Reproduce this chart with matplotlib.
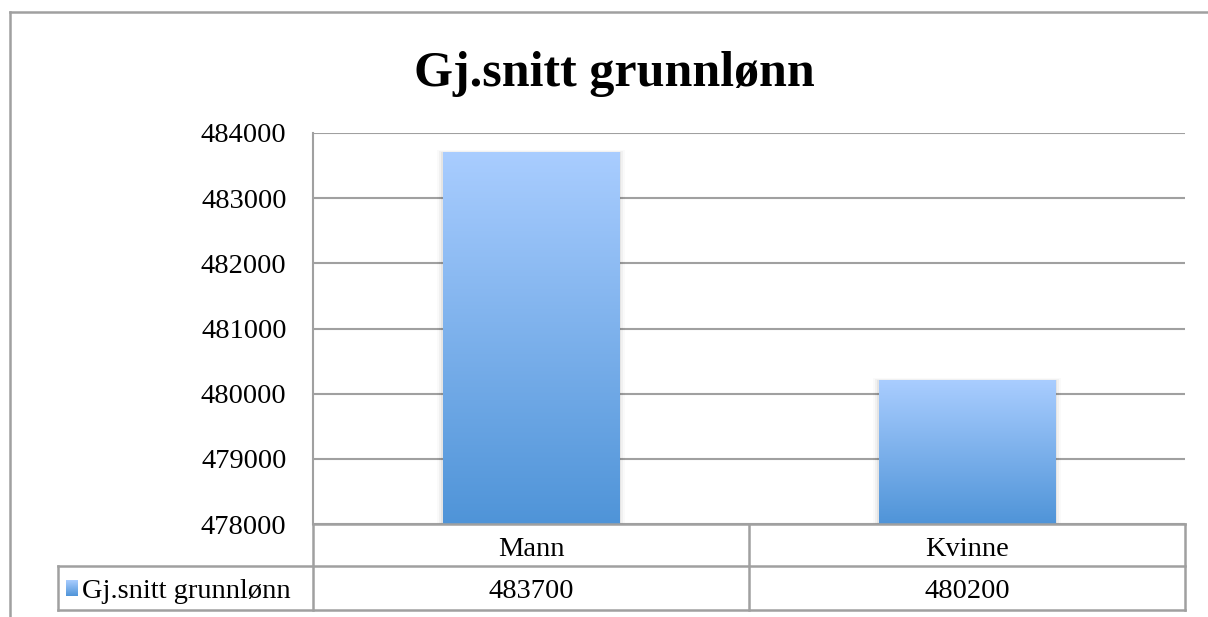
import matplotlib
matplotlib.use("Agg")
import matplotlib.pyplot as plt
import numpy as np
from matplotlib.colors import LinearSegmentedColormap
from matplotlib.lines import Line2D

categories = ["Mann", "Kvinne"]
values = [483700, 480200]
series_name = "Gj.snitt grunnlønn"
title = "Gj.snitt grunnlønn"
yticks = [478000, 479000, 480000, 481000, 482000, 483000, 484000]

W, H = 1208, 617
fig = plt.figure(figsize=(W / 100, H / 100), dpi=100)
plt.rcParams['font.family'] = ['Liberation Serif', 'DejaVu Serif']

def fx(px):
    return px / W

def fy(py):
    return 1 - py / H

gray = "#a0a0a0"
fs = 20.5

# outer frame (left, top)
fig.add_artist(Line2D([fx(10), fx(10)], [fy(12), 0], transform=fig.transFigure, color=gray, lw=1.8))
fig.add_artist(Line2D([fx(10), 1], [fy(12), fy(12)], transform=fig.transFigure, color=gray, lw=1.8))

ax = fig.add_axes([fx(313), fy(524), fx(1185) - fx(313), fy(133) - fy(524)])
ax.set_ylim(yticks[0], yticks[-1])
ax.set_xlim(-0.5, len(categories) - 0.5)
ax.set_yticks(yticks)
ax.set_yticklabels([str(t) for t in yticks], fontsize=fs)
ax.tick_params(axis='y', length=0, pad=19)
ax.set_xticks([])
ax.yaxis.grid(True, color=gray, lw=1.5)
ax.set_axisbelow(True)
for s in ["top", "right", "bottom"]:
    ax.spines[s].set_visible(False)
ax.spines["left"].set_color(gray)
ax.spines["left"].set_linewidth(1.5)

cmap = LinearSegmentedColormap.from_list("g", ["#4f94d8", "#a9cdff"])
grad = np.linspace(0, 1, 256).reshape(-1, 1)
bars = ax.bar(range(len(categories)), values, width=0.405, bottom=0,
              color="none", zorder=3)
for b in bars:
    x0 = b.get_x()
    x1 = x0 + b.get_width()
    top = b.get_height()
    # soft shadow
    for i, a in enumerate([0.05, 0.035, 0.02]):
        d = 0.004 * (i + 1)
        ax.add_patch(plt.Rectangle((x0 - d, yticks[0]), (x1 - x0) + 2 * d, top - yticks[0] + 15 * (i + 1),
                                   color="black", alpha=a, lw=0, zorder=2.5))
    ax.imshow(grad, cmap=cmap, aspect="auto", origin="lower",
              extent=[x0, x1, yticks[0], top], zorder=3)
ax.set_xlim(-0.5, len(categories) - 0.5)
ax.set_ylim(yticks[0], yticks[-1])

# data table
def hline(x0, x1, y):
    fig.add_artist(Line2D([fx(x0), fx(x1)], [fy(y), fy(y)], transform=fig.transFigure, color=gray, lw=1.8))

def vline(x, y0, y1):
    fig.add_artist(Line2D([fx(x), fx(x)], [fy(y0), fy(y1)], transform=fig.transFigure, color=gray, lw=1.8))

hline(313, 1185, 524)
hline(58, 1185, 566)
hline(58, 1185, 610)
vline(313, 524, 610)
vline(749, 524, 610)
vline(1185, 524, 610)
vline(58, 566, 610)

col_centers = [531, 967]
for c, cat, v in zip(col_centers, categories, values):
    fig.text(fx(c), fy(549), cat, ha="center", va="center", fontsize=fs)
    fig.text(fx(c), fy(591), str(v), ha="center", va="center", fontsize=fs)

# legend key
key_ax = fig.add_axes([fx(66), fy(596), fx(78) - fx(66), fy(580) - fy(596)])
key_ax.imshow(grad, cmap=cmap, aspect="auto", origin="lower", extent=[0, 1, 0, 1])
key_ax.axis("off")
fig.text(fx(82), fy(591), series_name, ha="left", va="center", fontsize=fs)

fig.text(fx(614), fy(74), title, ha="center", va="center", fontsize=36, fontweight="bold")

fig.savefig("out.png", dpi=100)
